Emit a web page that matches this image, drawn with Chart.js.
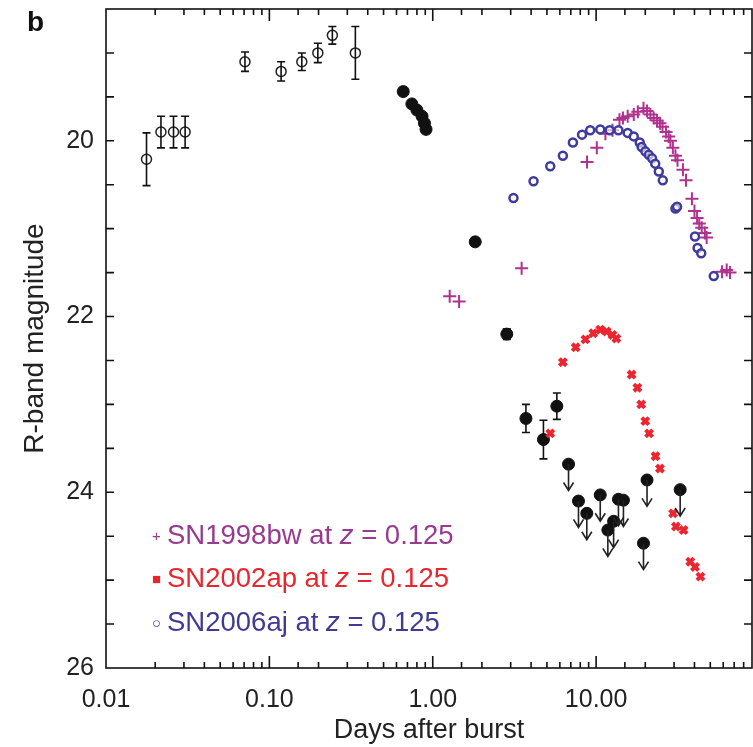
<!DOCTYPE html>
<html>
<head>
<meta charset="utf-8">
<script src="https://cdn.jsdelivr.net/npm/chart.js@4.4.1/dist/chart.umd.min.js"></script>
<style>
  html, body { margin: 0; padding: 0; background: #fff; }
  #wrap { position: relative; width: 753px; height: 747px; font-family: 'Liberation Sans', Arial, sans-serif; }
  canvas { position: absolute; left: 0; top: 0; }
  .panel { position: absolute; left: 27px; top: 6px; font-size: 28px; font-weight: bold; color: #111; }
  .leg { position: absolute; left: 146px; font-size: 27.5px; line-height: 30px; white-space: nowrap; }
  .leg i { font-style: italic; }
  .mk { display: inline-block; width: 21px; text-align: center; font-size: 15px; vertical-align: 3px; }
</style>
</head>
<body>
<div id="wrap">
  <canvas id="c" width="753" height="747"></canvas>
  <div class="panel">b</div>
  <div class="leg" style="top:520px;color:#983a8f"><span class="mk">+</span>SN1998bw at <i>z</i> = 0.125</div>
  <div class="leg" style="top:563px;color:#e8262e"><span class="mk">&#9632;</span>SN2002ap at <i>z</i> = 0.125</div>
  <div class="leg" style="top:607px;color:#3f3b93"><span class="mk">&#9675;</span>SN2006aj at <i>z</i> = 0.125</div>
</div>
<script>
// GRB afterglow, early open points
const earlyX = [0.0177, 0.0217, 0.0259, 0.0305, 0.0709, 0.118, 0.158, 0.198, 0.243, 0.336];
const earlyY = [20.21, 19.90, 19.90, 19.90, 19.10, 19.21, 19.10, 19.00, 18.80, 19.00];
const earlyErr = [0.30, 0.18, 0.18, 0.18, 0.11, 0.11, 0.10, 0.11, 0.10, 0.30];

// GRB afterglow, filled detections
const detX = [0.66, 0.745, 0.80, 0.86, 0.89, 0.91, 1.82, 2.84, 3.72, 4.76, 5.75];
const detY = [19.44, 19.58, 19.65, 19.72, 19.80, 19.87, 21.15, 22.20, 23.16, 23.40, 23.02];
const detErr = [0, 0, 0, 0, 0, 0, 0, 0.06, 0.16, 0.22, 0.15];

// GRB afterglow, upper limits
const limX = [6.78, 7.80, 8.77, 10.6, 11.8, 12.8, 13.7, 14.7, 19.5, 20.5, 32.7];
const limY = [23.68, 24.10, 24.24, 24.03, 24.43, 24.33, 24.08, 24.09, 24.58, 23.86, 23.97];

// SN1998bw at z = 0.125
const bwX = [1.27, 1.45, 3.5, 8.8, 10.1, 11.4, 12.6, 13.9, 14.6, 15.6, 17.0, 18.0, 19.5, 20.5, 21.5,
  22.5, 23.6, 24.6, 25.5, 26.8, 27.8, 28.5, 29.5, 30.6, 31.5, 34.0, 35.5, 38.6, 40.0, 41.5, 42.8,
  44.3, 46.3, 47.5, 59, 63, 66];
const bwY = [21.77, 21.83, 21.45, 20.24, 20.08, 19.92, 19.88, 19.76, 19.74, 19.72, 19.70, 19.67, 19.63,
  19.66, 19.70, 19.74, 19.77, 19.80, 19.84, 19.90, 19.95, 20.00, 20.08, 20.17, 20.22, 20.33, 20.45,
  20.66, 20.80, 20.88, 20.94, 20.99, 21.05, 21.10, 21.49, 21.47, 21.50];

// SN2002ap at z = 0.125
const apX = [5.24, 6.26, 7.5, 8.6, 9.6, 10.6, 11.6, 12.6, 13.3, 16.5, 17.9, 18.9, 20.0, 21.1, 23.1,
  24.6, 29.6, 30.8, 34.3, 37.7, 40.3, 43.5];
const apY = [23.33, 22.52, 22.35, 22.26, 22.19, 22.15, 22.17, 22.21, 22.25, 22.66, 22.81, 23.00, 23.19,
  23.33, 23.59, 23.73, 24.24, 24.39, 24.43, 24.79, 24.85, 24.96];

// SN2006aj at z = 0.125
const ajX = [3.12, 4.14, 5.24, 6.26, 7.21, 8.2, 9.2, 10.6, 12.1, 13.7, 15.6, 17.0, 18.5, 19.0, 20.0,
  21.0, 22.0, 23.0, 24.2, 25.6, 30.6, 31.3, 40.3, 41.8, 44.0, 52.5];
const ajY = [20.65, 20.46, 20.29, 20.17, 20.02, 19.93, 19.88, 19.87, 19.88, 19.88, 19.91, 19.95, 20.02,
  20.07, 20.12, 20.16, 20.20, 20.26, 20.35, 20.45, 20.77, 20.75, 21.09, 21.22, 21.28, 21.54];

const xTickLabels = ['0.01', '0.10', '1.00', '10.00'];
const yTickLabels = ['20', '22', '24', '26'];

const pts = (xs, ys) => xs.map((x, i) => ({ x: x, y: ys[i] }));
const FONT = "'Liberation Sans', Arial, sans-serif";

const isDecade = v => Math.abs(Math.log10(v) - Math.round(Math.log10(v))) < 1e-6;

const markings = {
  id: 'markings',
  afterDatasetsDraw(chart) {
    const ctx = chart.ctx;
    const xs = chart.scales.x, ys = chart.scales.y;
    ctx.save();
    ctx.strokeStyle = '#111';
    ctx.lineWidth = 1.6;
    const bar = (x, y, e) => {
      const px = xs.getPixelForValue(x);
      const p1 = ys.getPixelForValue(y - e), p2 = ys.getPixelForValue(y + e);
      ctx.beginPath();
      ctx.moveTo(px, p1); ctx.lineTo(px, p2);
      ctx.moveTo(px - 4, p1); ctx.lineTo(px + 4, p1);
      ctx.moveTo(px - 4, p2); ctx.lineTo(px + 4, p2);
      ctx.stroke();
    };
    earlyX.forEach((x, i) => bar(x, earlyY[i], earlyErr[i]));
    detX.forEach((x, i) => { if (detErr[i] > 0) bar(x, detY[i], detErr[i]); });
    // upper limit arrows
    ctx.strokeStyle = '#222';
    limX.forEach((x, i) => {
      const px = xs.getPixelForValue(x);
      const p1 = ys.getPixelForValue(limY[i]);
      const p2 = ys.getPixelForValue(limY[i] + 0.3);
      ctx.beginPath();
      ctx.moveTo(px, p1); ctx.lineTo(px, p2);
      ctx.moveTo(px - 5, p2 - 8); ctx.lineTo(px, p2); ctx.lineTo(px + 5, p2 - 8);
      ctx.stroke();
    });
    ctx.restore();
  },
  afterDraw(chart) {
    const ctx = chart.ctx;
    const a = chart.chartArea;
    const xs = chart.scales.x, ys = chart.scales.y;
    ctx.save();
    ctx.strokeStyle = '#111';
    ctx.lineWidth = 1.6;
    ctx.strokeRect(a.left, a.top, a.right - a.left, a.bottom - a.top);
    ctx.beginPath();
    xs.ticks.forEach(t => {
      const px = xs.getPixelForValue(t.value);
      if (px <= a.left + 1 || px >= a.right - 1) return;
      const len = isDecade(t.value) ? 12 : 6;
      ctx.moveTo(px, a.bottom); ctx.lineTo(px, a.bottom - len);
      ctx.moveTo(px, a.top); ctx.lineTo(px, a.top + len);
    });
    ys.ticks.forEach(t => {
      const py = ys.getPixelForValue(t.value);
      if (py <= a.top + 1 || py >= a.bottom - 1) return;
      ctx.moveTo(a.left, py); ctx.lineTo(a.left + 8, py);
      ctx.moveTo(a.right, py); ctx.lineTo(a.right - 8, py);
    });
    ctx.stroke();
    ctx.restore();
  }
};

new Chart(document.getElementById('c'), {
  type: 'scatter',
  data: {
    datasets: [
      { label: 'SN2006aj', data: pts(ajX, ajY), pointStyle: 'circle', pointRadius: 4,
        borderColor: '#3f3b9c', backgroundColor: 'rgba(255,255,255,0.6)', pointBorderWidth: 2.5 },
      { label: 'SN1998bw', data: pts(bwX, bwY), pointStyle: 'cross', pointRadius: 6.5,
        borderColor: '#b0328f', pointBorderWidth: 2 },
      { label: 'SN2002ap', data: pts(apX, apY), pointStyle: 'crossRot', pointRadius: 5,
        borderColor: '#ec2630', pointBorderWidth: 4 },
      { label: 'early', data: pts(earlyX, earlyY), pointStyle: 'circle', pointRadius: 5,
        borderColor: '#222', backgroundColor: 'rgba(255,255,255,0)', pointBorderWidth: 1.5 },
      { label: 'detections', data: pts(detX, detY), pointStyle: 'circle', pointRadius: 6,
        borderColor: '#111', backgroundColor: '#111', pointBorderWidth: 1 },
      { label: 'limits', data: pts(limX, limY), pointStyle: 'circle', pointRadius: 6,
        borderColor: '#111', backgroundColor: '#111', pointBorderWidth: 1 }
    ]
  },
  options: {
    responsive: false,
    animation: false,
    layout: { autoPadding: false, padding: { left: 0, right: 1, top: 9, bottom: 0 } },
    plugins: { legend: { display: false }, tooltip: { enabled: false } },
    scales: {
      x: {
        type: 'logarithmic',
        min: 0.01,
        max: 90,
        grid: { display: false, drawTicks: false },
        border: { display: false },
        afterFit: s => { s.height = 79; s.paddingLeft = 0; s.paddingRight = 0; },
        ticks: {
          autoSkip: false, maxRotation: 0, minRotation: 0, padding: 17,
          color: '#222', font: { family: FONT, size: 25 },
          callback: v => {
            if (!isDecade(v)) return '';
            const lab = v.toFixed(2);
            return xTickLabels.includes(lab) ? lab : '';
          }
        },
        title: { display: true, text: 'Days after burst', color: '#222', padding: 0,
          font: { family: FONT, size: 27 } }
      },
      y: {
        reverse: true,
        min: 18.5,
        max: 26,
        grid: { display: false, drawTicks: false },
        border: { display: false },
        afterFit: s => { s.width = 106; s.paddingTop = 0; s.paddingBottom = 0; },
        ticks: {
          stepSize: 0.5, autoSkip: false, padding: 12,
          color: '#222', font: { family: FONT, size: 25 },
          callback: v => yTickLabels.includes(String(v)) ? String(v) : ''
        },
        title: { display: true, text: 'R-band magnitude', color: '#222', padding: 18,
          font: { family: FONT, size: 28 } }
      }
    }
  },
  plugins: [markings]
});
</script>
</body>
</html>
